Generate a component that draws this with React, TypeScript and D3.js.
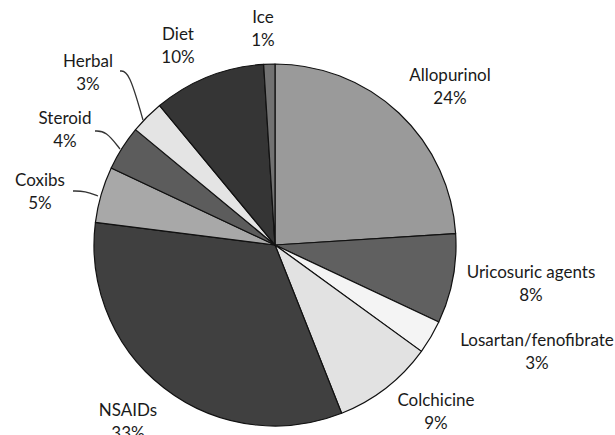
import React from "react";
import * as d3 from "d3";

const labels = ["Allopurinol", "Uricosuric agents", "Losartan/fenofibrate", "Colchicine", "NSAIDs", "Coxibs", "Steroid", "Herbal", "Diet", "Ice"];
const values = [24, 8, 3, 9, 33, 5, 4, 3, 10, 1];
const colors = ["#9a9a9a", "#606060", "#f4f4f4", "#e2e2e2", "#404040", "#a8a8a8", "#5c5c5c", "#e4e4e4", "#353535", "#727272"];

// where each label sits (x, y of the first line), plus optional leader line
const labelPos: [number, number][] = [
  [450, 81], [531, 278], [537, 346], [436, 406], [128, 416],
  [40, 186], [65, 124], [88, 67], [178, 40], [263, 23],
];
const leaders: Record<string, [number, number][]> = {
  Herbal: [[120, 71], [129, 71], [143, 120]],
  Steroid: [[95, 131], [106, 131], [120, 149]],
  Coxibs: [[73, 191], [85, 191], [98, 196]],
};

export default function App() {
  const width = 615;
  const height = 435;
  const cx = 275;
  const cy = 245;
  const r = 181;

  const pie = d3.pie<number>().sort(null).value((d) => d);
  const arcs = pie(values);
  const arc = d3.arc<d3.PieArcDatum<number>>().innerRadius(0).outerRadius(r);
  const line = d3.line().curve(d3.curveBasis);

  return (
    <svg width={width} height={height} style={{ position: "absolute", left: 0, top: 0, background: "#fff" }}>
      <g transform={`translate(${cx},${cy})`}>
        {arcs.map((a, i) => (
          <path key={labels[i]} d={arc(a) || ""} fill={colors[i]} stroke="#111" strokeWidth={1.2} strokeLinejoin="round" />
        ))}
      </g>
      {Object.keys(leaders).map((k) => (
        <path key={k} d={line(leaders[k]) || ""} fill="none" stroke="#333" strokeWidth={1.3} />
      ))}
      {labels.map((l, i) => (
        <text key={l} x={labelPos[i][0]} y={labelPos[i][1]} textAnchor="middle"
          fontFamily="Lato, 'Open Sans', sans-serif" fontSize={17} fill="#1a1a1a">
          <tspan x={labelPos[i][0]} dy="0">{l}</tspan>
          <tspan x={labelPos[i][0]} dy="23">{values[i]}%</tspan>
        </text>
      ))}
    </svg>
  );
}
